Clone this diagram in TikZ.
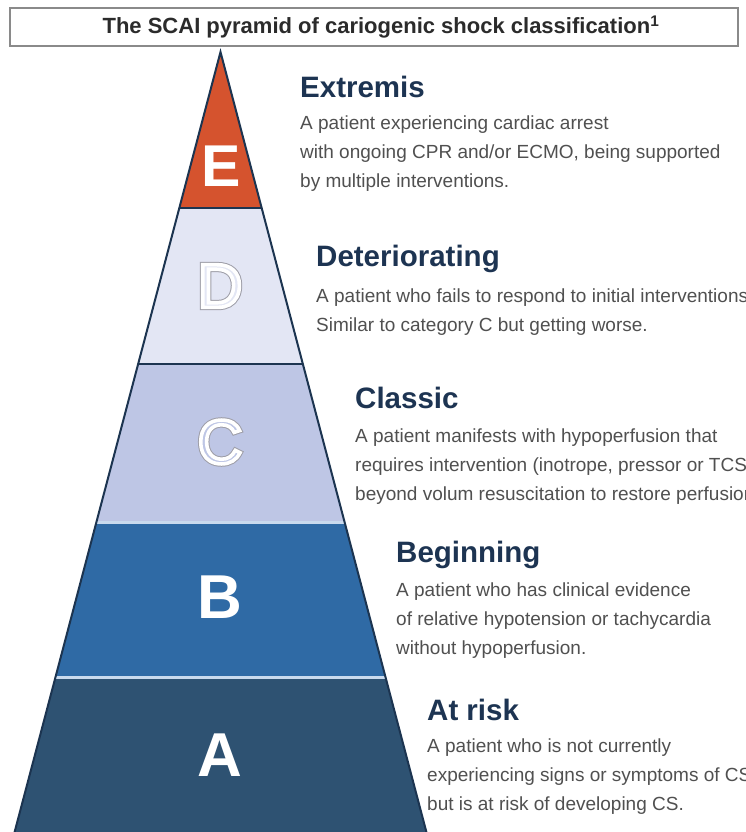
\documentclass[tikz,border=0pt]{standalone}
\usepackage{fontspec}
\setmainfont{Liberation Sans}
\definecolor{colE}{HTML}{D5532E}
\definecolor{colD}{HTML}{E3E6F4}
\definecolor{colC}{HTML}{BEC6E5}
\definecolor{colB}{HTML}{2F6AA5}
\definecolor{colA}{HTML}{2E5272}
\definecolor{edgec}{HTML}{1C3450}
\definecolor{sepc}{HTML}{C9DAEE}
\definecolor{headc}{HTML}{1D3452}
\definecolor{bodyc}{HTML}{505050}
\definecolor{titlec}{HTML}{2B2B2B}
\definecolor{framec}{HTML}{8A8A8A}
\newcommand{\strokeletter}[1]{\special{pdf:literal 1 Tr 5.6 w 0.62 0.62 0.66 RG}#1}
\newcommand{\hollowtop}[1]{\special{pdf:literal 2 Tr 3.6 w 1 1 1 RG}#1}
\begin{document}
\begin{tikzpicture}[x=1pt,y=-1pt,
  titlebox/.style={draw=framec, line width=2pt, fill=white, minimum width=728pt, minimum height=38pt, inner sep=0pt,
    font=\fontsize{22}{24}\selectfont\bfseries, text=titlec},
  heading/.style={anchor=base west, inner sep=0pt, font=\fontsize{29.5}{32}\selectfont\bfseries, text=headc},
  body/.style={anchor=base west, inner sep=0pt, align=left, font=\fontsize{19}{29}\selectfont, text=bodyc},
  solidletter/.style={inner sep=0pt, text=white, font=\fontsize{62}{62}\selectfont\bfseries},
  hollowletter/.style={inner sep=0pt, font=\fontsize{62}{62}\selectfont},
  pyredge/.style={draw=edgec, line width=2pt, line join=miter},
  darksep/.style={draw=edgec, line width=1.8pt},
  lightsep/.style={draw=sepc, line width=3pt}
]
\useasboundingbox (0,0) rectangle (745,832);
\clip (0,0) rectangle (745,832);
\fill[white] (0,0) rectangle (745,832);

% title
\node[titlebox] (title) at (374,27) {\hspace*{14pt}The SCAI pyramid of cariogenic shock classification\textsuperscript{1}};

% pyramid bands
\coordinate (apex) at (220.5,52);
\coordinate (eL) at (179.3,208);  \coordinate (eR) at (261.7,208);
\coordinate (dL) at (138.1,364);  \coordinate (dR) at (302.9,364);
\coordinate (cL) at (96.4,522);   \coordinate (cR) at (344.6,522);
\coordinate (bL) at (55.5,677);   \coordinate (bR) at (385.5,677);
\coordinate (aL) at (12.5,840);   \coordinate (aR) at (428.5,840);

\fill[colE] (apex) -- (eR) -- (eL) -- cycle;
\fill[colD] (eL) -- (eR) -- (dR) -- (dL) -- cycle;
\fill[colC] (dL) -- (dR) -- (cR) -- (cL) -- cycle;
\fill[colB] (cL) -- (cR) -- (bR) -- (bL) -- cycle;
\fill[colA] (bL) -- (bR) -- (aR) -- (aL) -- cycle;

\draw[darksep] (eL) -- (eR);
\draw[darksep] (dL) -- (dR);
\draw[lightsep] (cL) -- (cR);
\draw[lightsep] (bL) -- (bR);
\draw[pyredge] (aL) -- (apex) -- (aR);

% letters
\node[solidletter, font=\fontsize{59}{59}\selectfont\bfseries] (letE) at (221,166) {E};
\node[hollowletter, text=colD] (letDs) at (220,286) {\strokeletter{D}};
\node[hollowletter, text=colD] (letD) at (220,286) {\hollowtop{D}};
\node[hollowletter, text=colC] (letCs) at (220,442) {\strokeletter{C}};
\node[hollowletter, text=colC] (letC) at (220,442) {\hollowtop{C}};
\node[solidletter] (letB) at (220,597) {B};
\node[solidletter] (letA) at (220,755) {A};

% descriptions
\node[heading] (hE) at (300,98) {Extremis};
\node[body] (tE) at (300,187.5) {A patient experiencing cardiac arrest\\with ongoing CPR and/or ECMO, being supported\\by multiple interventions.};

\node[heading] (hD) at (316,266) {Deteriorating};
\node[body] (tD) at (316,331.5) {A patient who fails to respond to initial interventions.\\Similar to category C but getting worse.};

\node[heading] (hC) at (355,408) {Classic};
\node[body] (tC) at (355,500.5) {A patient manifests with hypoperfusion that\\requires intervention (inotrope, pressor or TCS)\\beyond volum resuscitation to restore perfusion.};

\node[heading] (hB) at (396,562) {Beginning};
\node[body] (tB) at (396,654.5) {A patient who has clinical evidence\\of relative hypotension or tachycardia\\without hypoperfusion.};

\node[heading] (hA) at (427,720) {At risk};
\node[body] (tA) at (427,810.5) {A patient who is not currently\\experiencing signs or symptoms of CS\\but is at risk of developing CS.};
\end{tikzpicture}
\end{document}
